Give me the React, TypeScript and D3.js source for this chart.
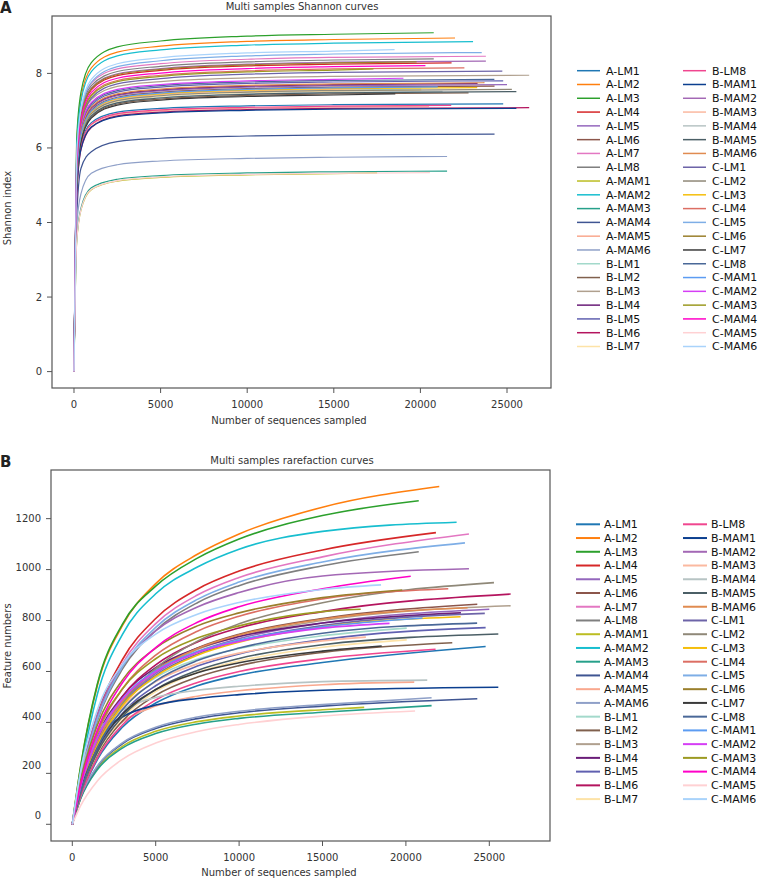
import * as d3 from 'd3'

const SAMPLES = [
  'A-LM1', 'A-LM2', 'A-LM3', 'A-LM4', 'A-LM5', 'A-LM6', 'A-LM7', 'A-LM8',
  'A-MAM1', 'A-MAM2', 'A-MAM3', 'A-MAM4', 'A-MAM5', 'A-MAM6',
  'B-LM1', 'B-LM2', 'B-LM3', 'B-LM4', 'B-LM5', 'B-LM6', 'B-LM7', 'B-LM8',
  'B-MAM1', 'B-MAM2', 'B-MAM3', 'B-MAM4', 'B-MAM5', 'B-MAM6',
  'C-LM1', 'C-LM2', 'C-LM3', 'C-LM4', 'C-LM5', 'C-LM6', 'C-LM7', 'C-LM8',
  'C-MAM1', 'C-MAM2', 'C-MAM3', 'C-MAM4', 'C-MAM5', 'C-MAM6',
]

const COLORS = [
  '#1f77b4', '#ff7f0e', '#2ca02c', '#d62728', '#9467bd', '#8c564b', '#e377c2', '#7f7f7f',
  '#bcbd22', '#17becf', '#26a08a', '#3f5592', '#f9a88e', '#8fa0c8',
  '#a3d9cb', '#80604d', '#b0a08e', '#6a1d78', '#6060b0', '#b4145e', '#fde3a7', '#f0468f',
  '#0b3f8f', '#a368b5', '#fbb9a0', '#b7c4c4', '#4b5f66', '#e08b50',
  '#6d64a8', '#8f8878', '#f5be0b', '#dc6e63', '#7eaee6', '#9a7f2c', '#3a3a3a', '#4a6898',
  '#5c9cf2', '#d53ef5', '#9c9a22', '#ff00c8', '#ffd1d3', '#a9d3fb',
]

// sequencing depth at which each curve ends
const DEPTHS = [
  24780, 22000, 20770, 21800, 25000, 24280, 23780, 20770,
  17500, 23040, 21540, 24280, 20500, 21540,
  20050, 22780, 26280, 23300, 24780, 26280, 20050, 21780,
  25540, 23780, 17600, 21280, 25540, 23700,
  24730, 25280, 23280, 22540, 23540, 19780, 18550, 24270,
  21000, 19020, 17290, 20290, 20550, 18510,
]

// sampled depths; the last value of every row is the value at its own depth
const SHANNON_STEPS = [0, 150, 400, 1000, 2500, 5000, 10000, 15000]
const FEATURE_STEPS = [0, 500, 1500, 3000, 5000, 7500, 10000, 15000]

const SHANNON = [
  [0, 4.88, 6.08, 6.68, 6.96, 7.06, 7.13, 7.16, 7.18],
  [0, 6.05, 7.35, 8.15, 8.57, 8.73, 8.86, 8.91, 8.95],
  [0, 6.19, 7.49, 8.29, 8.71, 8.87, 9.0, 9.05, 9.09],
  [0, 5.58, 6.83, 7.56, 7.94, 8.08, 8.2, 8.25, 8.28],
  [0, 5.2, 6.4, 7.05, 7.4, 7.53, 7.63, 7.67, 7.7],
  [0, 5.16, 6.36, 7.01, 7.36, 7.49, 7.59, 7.63, 7.66],
  [0, 5.76, 7.01, 7.74, 8.12, 8.26, 8.38, 8.43, 8.46],
  [0, 5.69, 6.94, 7.67, 8.05, 8.19, 8.31, 8.36, 8.39],
  [0, 3.43, 4.33, 4.88, 5.11, 5.21, 5.28, 5.31, 5.33],
  [0, 5.95, 7.25, 8.05, 8.47, 8.63, 8.76, 8.81, 8.85],
  [0, 3.48, 4.38, 4.93, 5.16, 5.26, 5.33, 5.36, 5.38],
  [0, 4.07, 5.45, 5.9, 6.17, 6.26, 6.32, 6.35, 6.37],
  [0, 4.82, 6.02, 6.62, 6.9, 7.0, 7.07, 7.1, 7.12],
  [0, 3.87, 4.77, 5.32, 5.55, 5.65, 5.72, 5.75, 5.77],
  [0, 5.08, 6.28, 6.93, 7.28, 7.41, 7.51, 7.55, 7.58],
  [0, 4.98, 6.18, 6.83, 7.18, 7.31, 7.41, 7.45, 7.48],
  [0, 5.45, 6.65, 7.3, 7.65, 7.78, 7.88, 7.92, 7.95],
  [0, 5.23, 6.43, 7.08, 7.43, 7.56, 7.66, 7.7, 7.73],
  [0, 5.3, 6.5, 7.15, 7.5, 7.63, 7.73, 7.77, 7.8],
  [0, 4.6, 5.95, 6.55, 6.86, 6.96, 7.03, 7.06, 7.08],
  [0, 5.05, 6.25, 6.9, 7.25, 7.38, 7.48, 7.52, 7.55],
  [0, 4.84, 6.04, 6.64, 6.92, 7.02, 7.09, 7.12, 7.14],
  [0, 4.76, 5.96, 6.56, 6.84, 6.94, 7.01, 7.04, 7.06],
  [0, 5.63, 6.88, 7.61, 7.99, 8.13, 8.25, 8.3, 8.33],
  [0, 5.1, 6.3, 6.95, 7.3, 7.43, 7.53, 7.57, 7.6],
  [0, 5.02, 6.22, 6.87, 7.22, 7.35, 7.45, 7.49, 7.52],
  [0, 5.01, 6.21, 6.86, 7.21, 7.34, 7.44, 7.48, 7.51],
  [0, 5.25, 6.45, 7.1, 7.45, 7.58, 7.68, 7.72, 7.75],
  [0, 5.36, 6.61, 7.34, 7.72, 7.86, 7.98, 8.03, 8.06],
  [0, 5.07, 6.27, 6.92, 7.27, 7.4, 7.5, 7.54, 7.57],
  [0, 5.12, 6.32, 6.97, 7.32, 7.45, 7.55, 7.59, 7.62],
  [0, 5.45, 6.7, 7.43, 7.81, 7.95, 8.07, 8.12, 8.15],
  [0, 5.66, 6.96, 7.76, 8.18, 8.34, 8.47, 8.52, 8.56],
  [0, 5.61, 6.86, 7.59, 7.97, 8.11, 8.23, 8.28, 8.31],
  [0, 4.95, 6.15, 6.8, 7.15, 7.28, 7.38, 7.42, 7.45],
  [0, 5.34, 6.54, 7.19, 7.54, 7.67, 7.77, 7.81, 7.84],
  [0, 5.14, 6.34, 6.99, 7.34, 7.47, 7.57, 7.61, 7.64],
  [0, 5.37, 6.57, 7.22, 7.57, 7.7, 7.8, 7.84, 7.87],
  [0, 5.42, 6.67, 7.4, 7.78, 7.92, 8.04, 8.09, 8.12],
  [0, 5.51, 6.76, 7.49, 7.87, 8.01, 8.13, 8.18, 8.21],
  [0, 3.44, 4.34, 4.89, 5.12, 5.22, 5.29, 5.32, 5.34],
  [0, 5.74, 7.04, 7.84, 8.26, 8.42, 8.55, 8.6, 8.64],
]

const FEATURES = [
  [0, 109, 254, 381, 476, 544, 586, 635, 698],
  [0, 225, 545, 780, 945, 1060, 1140, 1245, 1326],
  [0, 228, 550, 785, 935, 1045, 1120, 1212, 1270],
  [0, 184, 431, 646, 808, 923, 994, 1077, 1145],
  [0, 135, 316, 474, 593, 677, 729, 790, 844],
  [0, 138, 323, 485, 606, 692, 746, 808, 864],
  [0, 180, 420, 630, 788, 900, 969, 1050, 1140],
  [0, 174, 406, 609, 761, 870, 937, 1015, 1070],
  [0, 102, 219, 306, 365, 403, 425, 450, 459],
  [0, 205, 510, 745, 905, 1010, 1080, 1150, 1186],
  [0, 100, 214, 299, 356, 394, 416, 440, 466],
  [0, 105, 226, 316, 376, 415, 438, 464, 493],
  [0, 151, 301, 402, 464, 503, 524, 548, 558],
  [0, 107, 228, 320, 381, 421, 444, 470, 497],
  [0, 144, 324, 471, 576, 648, 690, 740, 770],
  [0, 115, 270, 405, 506, 578, 623, 675, 713],
  [0, 137, 320, 480, 600, 686, 738, 800, 858],
  [0, 153, 346, 502, 615, 691, 737, 790, 830],
  [0, 124, 290, 435, 544, 621, 669, 725, 772],
  [0, 143, 334, 501, 626, 716, 771, 835, 904],
  [0, 119, 278, 417, 521, 596, 641, 695, 724],
  [0, 111, 260, 390, 488, 557, 600, 650, 687],
  [0, 184, 337, 421, 468, 494, 509, 526, 538],
  [0, 189, 427, 620, 759, 853, 910, 975, 1003],
  [0, 140, 315, 458, 560, 630, 672, 720, 735],
  [0, 196, 358, 448, 498, 526, 542, 560, 566],
  [0, 121, 282, 423, 529, 604, 651, 705, 747],
  [0, 138, 322, 483, 604, 690, 743, 805, 850],
  [0, 133, 312, 468, 585, 668, 720, 780, 828],
  [0, 123, 300, 472, 612, 719, 787, 870, 949],
  [0, 133, 310, 465, 581, 664, 715, 775, 815],
  [0, 151, 354, 531, 664, 758, 817, 885, 925],
  [0, 176, 412, 618, 773, 883, 951, 1030, 1105],
  [0, 173, 389, 566, 692, 779, 830, 890, 920],
  [0, 132, 298, 432, 529, 595, 634, 680, 700],
  [0, 128, 300, 450, 563, 643, 692, 750, 790],
  [0, 150, 339, 493, 603, 678, 723, 775, 810],
  [0, 149, 337, 490, 599, 674, 718, 770, 789],
  [0, 162, 365, 531, 650, 731, 779, 835, 844],
  [0, 158, 370, 555, 694, 793, 854, 925, 974],
  [0, 73, 170, 255, 319, 364, 392, 425, 445],
  [0, 209, 448, 627, 747, 825, 871, 922, 940],
]

const X_TICKS = [0, 5000, 10000, 15000, 20000, 25000]
const SHANNON_TICKS = [0, 2, 4, 6, 8]
const FEATURE_TICKS = [0, 200, 400, 600, 800, 1000, 1200]

const FONT = '"DejaVu Sans", Verdana, sans-serif'

function toPoints(steps: number[], vals: number[], depth: number): [number, number][] {
  const pts: [number, number][] = steps.map((s, i) => [s, vals[i]])
  pts.push([depth, vals[steps.length]])
  return pts
}

type PanelProps = {
  frame: { l: number; r: number; t: number; b: number }
  xDomain: [number, number]
  yDomain: [number, number]
  yTicks: number[]
  yLabelRange?: [number, number]
  steps: number[]
  rows: number[][]
  title: string
  titleX: number
  titleY: number
  letter: string
  letterY: number
  yTitle: string
  yTitleY: number
  xLabelY: number
  xTitleX: number
  xTitleY: number
  lineWidth: number
  legend: { x1: number; x2: number; tx: number; cx: number; y0: number; dy: number; w: number }
}

function Panel(p: PanelProps) {
  const { frame } = p
  const x = d3.scaleLinear().domain(p.xDomain).range([frame.l, frame.r])
  const y = d3.scaleLinear().domain(p.yDomain).range([frame.b, frame.t])
  const yLab = p.yLabelRange
    ? d3.scaleLinear().domain([p.yTicks[0], p.yTicks[p.yTicks.length - 1]]).range(p.yLabelRange)
    : y
  const line = d3.line<[number, number]>().x(d => x(d[0])).y(d => y(d[1])).curve(d3.curveMonotoneX)
  const axisColor = '#555'
  const textColor = '#333'

  return (
    <g>
      <text x={0} y={p.letterY} dy="0.35em" fontFamily={FONT} fontWeight="bold" fontSize={15} fill="#222">
        {p.letter}
      </text>
      <text x={p.titleX} y={p.titleY} dy="0.35em" textAnchor="middle" fontFamily={FONT} fontSize={10} fill={textColor}>
        {p.title}
      </text>

      {p.rows.map((vals, i) => (
        <path
          key={SAMPLES[i]}
          d={line(toPoints(p.steps, vals, DEPTHS[i])) || ''}
          fill="none"
          stroke={COLORS[i]}
          strokeWidth={p.lineWidth}
        />
      ))}

      <rect
        x={frame.l} y={frame.t} width={frame.r - frame.l} height={frame.b - frame.t}
        fill="none" stroke={axisColor} strokeWidth={1.2}
      />

      {p.yTicks.map(t => (
        <g key={'y' + t}>
          <line x1={frame.l - 5} x2={frame.l} y1={y(t)} y2={y(t)} stroke={axisColor} />
          <text x={frame.l - 10} y={yLab(t)} dy="0.35em" textAnchor="end" fontFamily={FONT} fontSize={10} fill={textColor}>
            {t}
          </text>
        </g>
      ))}
      {X_TICKS.map(t => (
        <g key={'x' + t}>
          <line x1={x(t)} x2={x(t)} y1={frame.b} y2={frame.b + 5} stroke={axisColor} />
          <text x={x(t)} y={p.xLabelY} dy="0.35em" textAnchor="middle" fontFamily={FONT} fontSize={10} fill={textColor}>
            {t}
          </text>
        </g>
      ))}

      <text x={p.xTitleX} y={p.xTitleY} dy="0.35em" textAnchor="middle" fontFamily={FONT} fontSize={10} fill={textColor}>
        Number of sequences sampled
      </text>
      <text
        transform={`translate(7,${p.yTitleY}) rotate(-90)`}
        dy="0.35em" textAnchor="middle" fontFamily={FONT} fontSize={10} fill={textColor}
      >
        {p.yTitle}
      </text>

      {SAMPLES.map((name, i) => {
        const col = i < 21 ? 0 : 1
        const row = col === 0 ? i : i - 21
        const off = col === 0 ? 0 : p.legend.cx
        const yy = p.legend.y0 + row * p.legend.dy
        return (
          <g key={'lg' + name}>
            <line
              x1={p.legend.x1 + off} x2={p.legend.x2 + off} y1={yy} y2={yy}
              stroke={COLORS[i]} strokeWidth={p.legend.w}
            />
            <text x={p.legend.tx + off} y={yy} dy="0.35em" fontFamily={FONT} fontSize={11} fill="#111">
              {name}
            </text>
          </g>
        )
      })}
    </g>
  )
}

export default function App() {
  return (
    <svg
      width={770}
      height={878}
      style={{ position: 'absolute', left: 0, top: 0, background: '#fff' }}
    >
      <Panel
        frame={{ l: 52, r: 551, t: 16, b: 388 }}
        xDomain={[-1270, 27540]}
        yDomain={[-0.44, 9.54]}
        yTicks={SHANNON_TICKS}
        steps={SHANNON_STEPS}
        rows={SHANNON}
        title="Multi samples Shannon curves"
        titleX={302}
        titleY={6}
        letter="A"
        letterY={8}
        yTitle="Shannon index"
        yTitleY={208}
        xLabelY={404}
        xTitleX={289}
        xTitleY={420}
        lineWidth={1.2}
        legend={{ x1: 577, x2: 600, tx: 606, cx: 106, y0: 70.7, dy: 13.79, w: 1.5 }}
      />
      <Panel
        frame={{ l: 51, r: 550, t: 470, b: 841 }}
        xDomain={[-1277, 28639]}
        yDomain={[-65.6, 1391]}
        yTicks={FEATURE_TICKS}
        yLabelRange={[815, 518.3]}
        steps={FEATURE_STEPS}
        rows={FEATURES}
        title="Multi samples rarefaction curves"
        titleX={292}
        titleY={460}
        letter="B"
        letterY={462}
        yTitle="Feature numbers"
        yTitleY={646}
        xLabelY={857}
        xTitleX={279}
        xTitleY={872}
        lineWidth={1.6}
        legend={{ x1: 576, x2: 600, tx: 604, cx: 107, y0: 524.3, dy: 13.74, w: 2 }}
      />
    </svg>
  )
}
